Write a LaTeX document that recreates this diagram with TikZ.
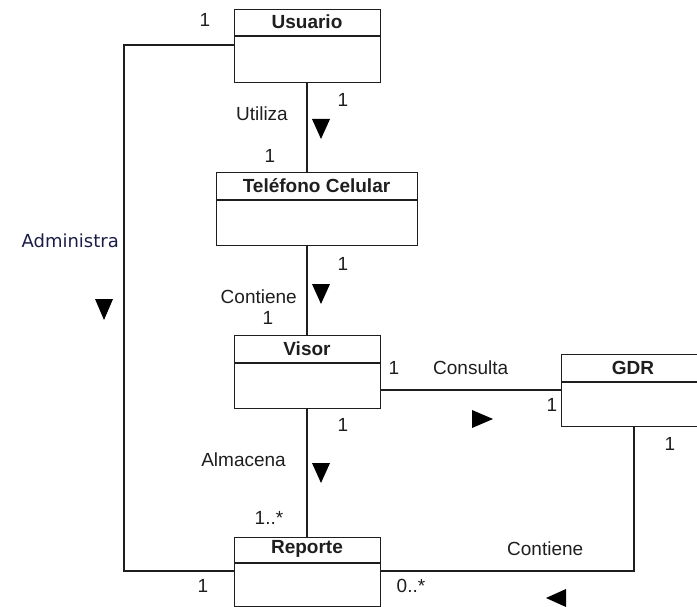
\documentclass[tikz,border=0pt]{standalone}
\usepackage{fontspec}
\setmainfont{Liberation Sans}
\newfontfamily\adminfont{DejaVu Sans}
\usetikzlibrary{calc}
\definecolor{ink}{RGB}{30,30,30}
\definecolor{navyink}{RGB}{28,28,72}
\tikzset{
  classbox/.style={draw=ink, line width=1.4pt, fill=white, inner sep=0pt, anchor=north west},
  classtitle/.style={font=\fontsize{19}{22}\selectfont\bfseries, text=ink, inner sep=0pt},
  conn/.style={draw=ink, line width=1.3pt},
  lbl/.style={font=\fontsize{19}{22}\selectfont, text=ink, inner sep=0pt},
  mult/.style={font=\fontsize{19}{22}\selectfont, text=ink, inner sep=0pt},
  dirmark/.style={fill=black, draw=none}
}
\begin{document}
\begin{tikzpicture}[x=1pt,y=-1pt]
\useasboundingbox (0,0) rectangle (697,607);

% class boxes: (left, top), width, height; header line drawn separately
\node[classbox, minimum width=146pt, minimum height=73pt] (usuario) at (234,9) {};
\node[classbox, minimum width=201pt, minimum height=73pt] (telefono) at (216,172) {};
\node[classbox, minimum width=146pt, minimum height=73pt] (visor) at (234,335) {};
\node[classbox, minimum width=146pt, minimum height=72pt] (gdr) at (561,354) {};
\node[classbox, minimum width=146pt, minimum height=68.5pt] (reporte) at (234,537) {};

\draw[ink, line width=1.4pt] (234,36) -- (380,36);
\draw[ink, line width=1.4pt] (216,200) -- (417,200);
\draw[ink, line width=1.4pt] (234,363) -- (380,363);
\draw[ink, line width=1.4pt] (561,382) -- (707,382);
\draw[ink, line width=1.4pt] (234,563) -- (380,563);

\node[classtitle] (tUsuario) at (307,22) {Usuario};
\node[classtitle] (tTelefono) at (316.5,186) {Teléfono Celular};
\node[classtitle] (tVisor) at (307,349) {Visor};
\node[classtitle] (tGdr) at (633,368) {GDR};
\node[classtitle] (tReporte) at (307,549) {Reporte};

% connector corner points
\coordinate (admTop) at (124,45);
\coordinate (admBot) at (124,571);
\coordinate (cntBot) at (634,571);

% associations
\draw[conn] (307,82) -- (307,172);
\draw[conn] (307,245) -- (307,335);
\draw[conn] (307,408) -- (307,537);
\draw[conn] (visor.east |- 0,390) -- (gdr.west |- 0,390);
\draw[conn] (usuario.west |- admTop) -- (admTop) -- (admBot) -- (reporte.west |- admBot);
\draw[conn] (reporte.east |- cntBot) -- (cntBot) -- (cntBot |- gdr.south);

% direction marks
\fill[dirmark] (312,119) -- (330,119) -- (321,139) -- cycle;
\fill[dirmark] (312,284) -- (330,284) -- (321,304) -- cycle;
\fill[dirmark] (312,463) -- (330,463) -- (321,483) -- cycle;
\fill[dirmark] (95,299) -- (113,299) -- (104,320) -- cycle;
\fill[dirmark] (472,410) -- (472,428) -- (493,419) -- cycle;
\fill[dirmark] (566,589) -- (566,607) -- (546,598) -- cycle;

% labels
\node[lbl, anchor=east] (lUtiliza) at (288,114) {Utiliza};
\node[lbl, anchor=east] (lContiene1) at (297,297) {Contiene};
\node[lbl, anchor=east] (lAlmacena) at (286,460) {Almacena};
\node[lbl, anchor=west] (lConsulta) at (433,368) {Consulta};
\node[lbl, anchor=west] (lContiene2) at (507,549) {Contiene};
\node[font=\adminfont\fontsize{18}{21}\selectfont, text=navyink, inner sep=0pt, anchor=east] (lAdmin) at (119,241) {Administra};

% multiplicities
\node[mult] (m1) at (205,20) {1};
\node[mult] (m2) at (343,100) {1};
\node[mult] (m3) at (270,156) {1};
\node[mult] (m4) at (343,264) {1};
\node[mult] (m5) at (268,318) {1};
\node[mult] (m6) at (394,368) {1};
\node[mult] (m7) at (552,405) {1};
\node[mult] (m8) at (343,425) {1};
\node[mult] (m9) at (269,518) {1..*};
\node[mult] (m10) at (670,444) {1};
\node[mult] (m11) at (203,586) {1};
\node[mult] (m12) at (411,586) {0..*};
\end{tikzpicture}
\end{document}
